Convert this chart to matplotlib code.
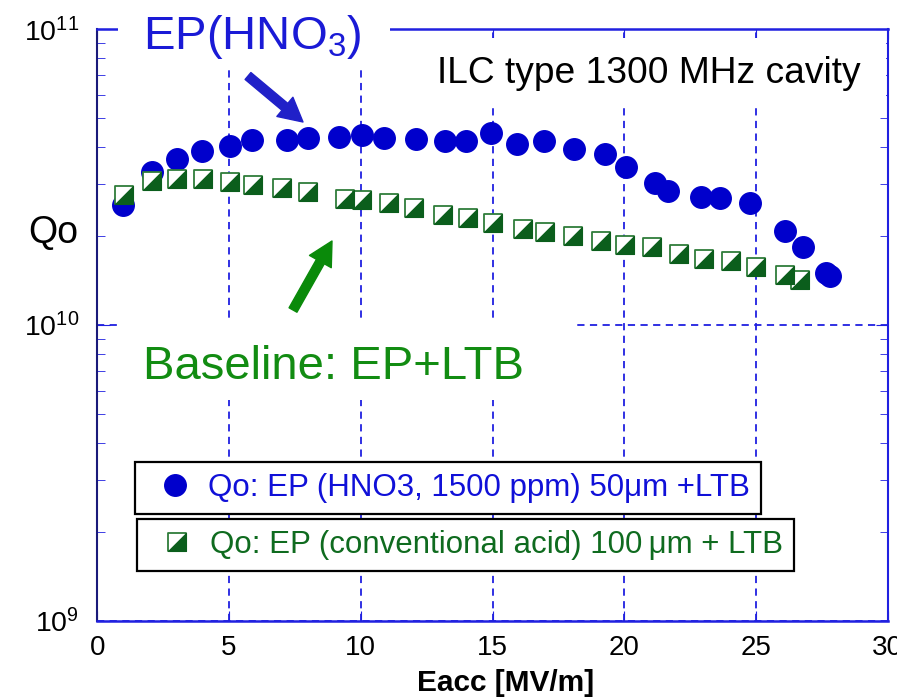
import matplotlib
matplotlib.use("Agg")
import matplotlib.pyplot as plt
from matplotlib.patches import Rectangle
from matplotlib.path import Path
from matplotlib.ticker import LogLocator, NullFormatter, MultipleLocator

plt.rcParams["font.family"] = "Liberation Sans"
plt.rcParams["mathtext.fontset"] = "custom"
plt.rcParams["mathtext.rm"] = "Liberation Sans"
plt.rcParams["mathtext.it"] = "Liberation Sans:italic"
plt.rcParams["mathtext.bf"] = "Liberation Sans:bold"

# EP with HNO3 acid, 50 um + LTB
eacc_hno3 = [0.98, 2.06, 3.01, 3.96, 5.04, 5.88, 7.19, 8.01, 9.17, 10.06,
             10.88, 12.1, 13.2, 13.99, 14.93, 15.92, 16.94, 18.08, 19.27, 20.05,
             21.17, 21.67, 22.9, 23.63, 24.77, 26.09, 26.79, 27.65, 27.8]
qo_hno3 = [2.55e10, 3.30e10, 3.65e10, 3.88e10, 4.04e10, 4.23e10, 4.23e10, 4.30e10,
           4.33e10, 4.40e10, 4.30e10, 4.27e10, 4.20e10, 4.20e10, 4.47e10, 4.10e10,
           4.20e10, 3.95e10, 3.80e10, 3.43e10, 3.02e10, 2.84e10, 2.71e10, 2.69e10,
           2.59e10, 2.08e10, 1.83e10, 1.50e10, 1.46e10]

# EP conventional acid, 100 um + LTB
eacc_conv = [1.02, 2.06, 3.01, 4.0, 5.04, 5.92, 7.0, 8.01, 9.4, 10.06,
             11.07, 12.03, 13.13, 14.08, 15.03, 16.17, 16.99, 18.07, 19.1, 20.03,
             21.04, 22.08, 23.04, 24.04, 25.0, 26.1, 26.69]
qo_conv = [2.75e10, 3.07e10, 3.12e10, 3.12e10, 3.05e10, 2.98e10, 2.91e10, 2.82e10,
           2.67e10, 2.65e10, 2.59e10, 2.49e10, 2.36e10, 2.30e10, 2.21e10, 2.11e10,
           2.06e10, 2.00e10, 1.92e10, 1.86e10, 1.83e10, 1.74e10, 1.67e10, 1.64e10,
           1.57e10, 1.48e10, 1.42e10]

label_hno3 = "Qo: EP (HNO3, 1500 ppm) 50\u03bcm +LTB"
label_conv = "Qo: EP (conventional acid) 100\u2009\u03bcm + LTB"

W, H = 897, 700
blue = "#0000cc"
grid_blue = "#2020e0"
dark_green = "#0b5e1c"
edge_green = "#2f7d3a"

fig = plt.figure(figsize=(W / 100, H / 100), dpi=100)
ax = fig.add_axes([97.3 / W, 1 - 620.7 / H, (887.7 - 97.3) / W, (620.7 - 29.3) / H])

# half-filled square marker (white upper-left, green lower-right)
sq = Path([(-1, -1), (1, -1), (1, 1), (-1, 1), (-1, -1)],
          [Path.MOVETO, Path.LINETO, Path.LINETO, Path.LINETO, Path.CLOSEPOLY])
tri = Path([(-1, -1), (1, -1), (1, 1), (-1, -1)],
           [Path.MOVETO, Path.LINETO, Path.LINETO, Path.CLOSEPOLY])

h1, = ax.plot(eacc_hno3, qo_hno3, ls="none", marker="o", ms=15.5,
              mfc=blue, mec=blue, zorder=3)
h2a, = ax.plot(eacc_conv, qo_conv, ls="none", marker=sq, ms=12.5,
               mfc="white", mec=edge_green, mew=1.3, zorder=4)
h2b, = ax.plot(eacc_conv, qo_conv, ls="none", marker=tri, ms=12.5,
               mfc=dark_green, mec=dark_green, mew=0.8, zorder=5)

ax.set_yscale("log")
ax.set_xlim(0, 30)
ax.set_ylim(1e9, 1e11)
ax.xaxis.set_major_locator(MultipleLocator(5))
ax.yaxis.set_major_locator(LogLocator(base=10))
ax.yaxis.set_minor_locator(LogLocator(base=10, subs=range(2, 10)))
ax.yaxis.set_minor_formatter(NullFormatter())

ax.grid(True, which="major", color=grid_blue, ls=(0, (4, 3)), lw=1.3)
ax.set_axisbelow(True)

ax.tick_params(axis="x", which="major", direction="in", top=True, length=7,
               color=grid_blue, labelsize=20, pad=10)
ax.tick_params(axis="y", which="major", direction="in", right=True, length=9,
               color=grid_blue, labelsize=20.5, pad=13)
ax.tick_params(axis="y", which="minor", direction="in", right=True, length=5.5,
               color=grid_blue)

for side in ["top", "bottom"]:
    ax.spines[side].set_color(grid_blue)
    ax.spines[side].set_linestyle((0, (2, 1)))
    ax.spines[side].set_linewidth(1.8)
ax.spines["right"].set_color(grid_blue)
ax.spines["right"].set_linewidth(1.5)
ax.spines["left"].set_color("#1a1a7a")
ax.spines["left"].set_linewidth(1.5)

ax.set_xlabel("Eacc [MV/m]", fontsize=21.5, fontweight="bold", labelpad=6)
ax.xaxis.label.set_x(0.516)

# legends: two stacked boxes
leg_kw = dict(loc="upper left", bbox_transform=fig.transFigure, fontsize=22.5,
              frameon=True, fancybox=False, framealpha=1, edgecolor="black",
              borderpad=0.35, handlelength=1.86, handletextpad=0.13,
              borderaxespad=0)
leg1 = ax.legend([h1], [label_hno3], bbox_to_anchor=(135 / W, 1 - 461.7 / H),
                 labelcolor="#1010d8", **leg_kw)
leg1.get_frame().set_linewidth(1.6)
ax.add_artist(leg1)
leg2 = ax.legend([(h2a, h2b)], [label_conv], bbox_to_anchor=(136.7 / W, 1 - 519 / H),
                 labelcolor="#0f6b1f", **leg_kw)
leg2.get_frame().set_linewidth(1.6)
leg2.set_zorder(6)

# white masks behind annotation texts
for x0, y0, x1, y1 in [(118, 0, 390, 70), (400, 38, 886, 104), (120, 321, 573, 400)]:
    fig.add_artist(Rectangle((x0 / W, 1 - y1 / H), (x1 - x0) / W, (y1 - y0) / H,
                             transform=fig.transFigure, facecolor="white",
                             edgecolor="none", zorder=1))

fig.text(143 / W, 1 - 49 / H, "EP(HNO$_3$)", fontsize=34, color="#1a1ad6",
         va="baseline", ha="left", zorder=3)
fig.text(437 / W, 1 - 83 / H, "ILC type 1300 MHz cavity", fontsize=26.7,
         color="black", va="baseline", ha="left", zorder=3)
fig.text(143 / W, 1 - 379 / H, "Baseline: EP+LTB", fontsize=34, color="#128c12",
         va="baseline", ha="left", zorder=3)
fig.text(28 / W, 1 - 243 / H, "Qo", fontsize=27, color="black",
         va="baseline", ha="left", zorder=3)

# arrows
ax.annotate("", xy=(303 / W, 1 - 122 / H), xytext=(248 / W, 1 - 76 / H),
            xycoords="figure fraction", textcoords="figure fraction",
            arrowprops=dict(width=6.5, headwidth=18, headlength=17, shrink=0,
                            color="#2020c8"))
ax.annotate("", xy=(332 / W, 1 - 241 / H), xytext=(293 / W, 1 - 310 / H),
            xycoords="figure fraction", textcoords="figure fraction",
            arrowprops=dict(width=6.5, headwidth=18, headlength=17, shrink=0,
                            color="#0a8a0a"))

fig.savefig("out.png", dpi=100)
